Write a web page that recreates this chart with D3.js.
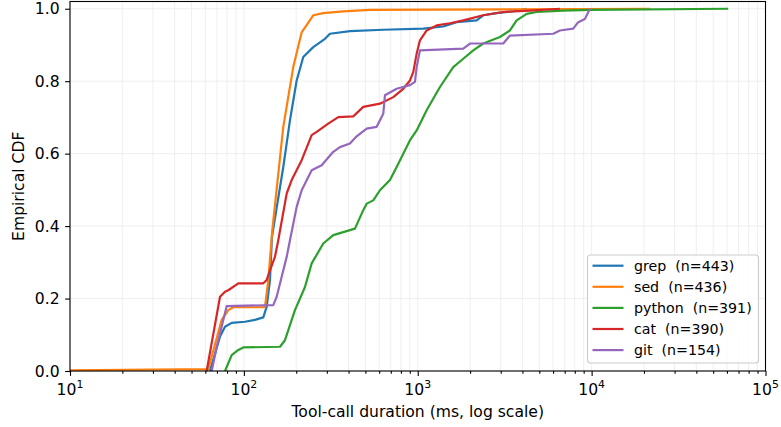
<!DOCTYPE html>
<html>
<head>
<meta charset="utf-8">
<script src="https://cdnjs.cloudflare.com/ajax/libs/d3/7.8.5/d3.min.js"></script>
<style>
    body { margin: 0; background: #fff; }
    svg { display: block; }
    svg text { font-family: 'DejaVu Sans', 'Bitstream Vera Sans', sans-serif; }
    .grid line { stroke: #ebebeb; stroke-width: 0.8; }
</style>
</head>
<body>
<svg id="chart" width="781" height="427"></svg>
<script>
    'use strict';

    // [duration in ms, empirical CDF]
    var grep = [[63.8, 0], [72.9, 0.095], [77.9, 0.122], [85.1, 0.133], [101.5, 0.136], [115.8, 0.141],
        [129.3, 0.148], [135.2, 0.177], [141.3, 0.251], [145, 0.37], [168.5, 0.563], [184.1, 0.692],
        [201.2, 0.802], [219.6, 0.867], [250.6, 0.894], [292.7, 0.917], [312.6, 0.931], [407.5, 0.938],
        [633.3, 0.942], [1075.5, 0.945], [1402, 0.951], [1673, 0.963], [2182, 0.968], [2380, 0.982],
        [2843, 0.988], [3541, 0.993], [4229, 1.0]];
    var sed = [[10, 0.002], [62.4, 0.005], [74.5, 0.141], [81.3, 0.168], [86.9, 0.176], [132.2, 0.176],
        [138.2, 0.251], [145.7, 0.389], [168.5, 0.674], [192.3, 0.839], [215, 0.935], [250.6, 0.982],
        [286.2, 0.988], [372.9, 0.993], [531.1, 0.997], [21640, 1.0]];
    var python = [[77.9, 0], [85.1, 0.044], [92.9, 0.058], [99.2, 0.065], [161.3, 0.067], [172.3, 0.085],
        [196.7, 0.168], [224.6, 0.232], [245.4, 0.297], [286.2, 0.352], [326.6, 0.375], [407.5, 0.389],
        [435.4, 0.393], [486, 0.444], [508.4, 0.462], [554.8, 0.471], [606.2, 0.499], [692, 0.527],
        [756.4, 0.563], [902.3, 0.637], [985.6, 0.664], [1125.1, 0.72], [1341.8, 0.784], [1600, 0.839],
        [1827, 0.862], [2086, 0.885], [2380, 0.904], [2970, 0.922], [3390, 0.94], [3704, 0.968],
        [4229, 0.986], [4828, 0.991], [6866, 0.995], [9777, 0.997], [61030, 1.0]];
    var cat = [[61.1, 0], [72.9, 0.205], [77.9, 0.219], [81.3, 0.223], [92.9, 0.242], [129.3, 0.242],
        [135.2, 0.251], [141.3, 0.278], [150.9, 0.315], [157.7, 0.361], [176.3, 0.49], [188.3, 0.527],
        [215, 0.582], [245.4, 0.651], [262.2, 0.66], [305.7, 0.683], [349, 0.701], [425.7, 0.703],
        [486, 0.729], [606.2, 0.738], [723.1, 0.756], [825.3, 0.779], [902.3, 0.802], [942.1, 0.825],
        [985.6, 0.876], [1029.7, 0.913], [1125.1, 0.94], [1284.5, 0.954], [1531.9, 0.96], [1827, 0.968],
        [2380, 0.982], [3102, 0.991], [4418, 0.995], [6572, 1.0]];
    var git = [[65.3, 0], [69.8, 0.067], [74.5, 0.122], [79.6, 0.179], [147.6, 0.182], [154.4, 0.205],
        [165, 0.26], [176.3, 0.315], [184.1, 0.361], [201.2, 0.453], [215, 0.499], [245.4, 0.554],
        [280.2, 0.568], [326.6, 0.605], [357, 0.618], [407.5, 0.628], [445.3, 0.648], [508.4, 0.669],
        [580.4, 0.674], [633.3, 0.71], [647.7, 0.761], [756.4, 0.779], [902.3, 0.789], [963.6, 0.798],
        [985.6, 0.839], [1029.7, 0.885], [1827, 0.89], [1996, 0.904], [3102, 0.904], [3390, 0.926],
        [6015, 0.931], [6572, 0.94], [7839, 0.945], [8375, 0.963], [9152, 0.972], [9777, 1.0]];

    var seriesNames = ['grep', 'sed', 'python', 'cat', 'git'];
    var seriesCounts = [443, 436, 391, 390, 154];
    var seriesColors = ['#1f77b4', '#ff7f0e', '#2ca02c', '#d62728', '#9467bd'];
    var seriesData = [grep, sed, python, cat, git];
    var xTickExponents = [1, 2, 3, 4, 5];
    var yTicks = [0, 0.2, 0.4, 0.6, 0.8, 1.0];

    var FONT = "'DejaVu Sans', 'Bitstream Vera Sans', sans-serif";
    var LABEL_SIZE = 15.6;
    var LEGEND_SIZE = 14.2;
    var MARGIN = {left: 70, right: 15.5, top: 1.5, bottom: 56};
    var WIDTH = 781, HEIGHT = 427;

    var svg = d3.select('#chart');
    var x = d3.scaleLog().domain([10, 1e5]).range([MARGIN.left, WIDTH - MARGIN.right]);
    var y = d3.scaleLinear().domain([0, 1.02]).range([HEIGHT - MARGIN.bottom, MARGIN.top]);

    var minorTicks = [];
    xTickExponents.slice(0, -1).forEach(function (e) {
        d3.range(2, 10).forEach(function (m) { minorTicks.push(m * Math.pow(10, e)); });
    });
    var majorTicks = xTickExponents.map(function (e) { return Math.pow(10, e); });

    // grid
    var grid = svg.append('g').attr('class', 'grid');
    grid.selectAll('.vx').data(majorTicks.concat(minorTicks)).enter().append('line')
        .attr('x1', x).attr('x2', x)
        .attr('y1', y(0)).attr('y2', y(1.02));
    grid.selectAll('.hy').data(yTicks).enter().append('line')
        .attr('x1', x(10)).attr('x2', x(1e5))
        .attr('y1', y).attr('y2', y);

    // lines
    var line = d3.line()
        .x(function (d) { return x(d[0]); })
        .y(function (d) { return y(d[1]); });

    svg.append('g').selectAll('path').data(seriesData).enter().append('path')
        .attr('d', line)
        .attr('fill', 'none')
        .attr('stroke', function (d, i) { return seriesColors[i]; })
        .attr('stroke-width', 2.2)
        .attr('stroke-linejoin', 'round');

    // x axis
    var xMinor = svg.append('g').attr('transform', 'translate(0,' + y(0) + ')')
        .call(d3.axisBottom(x).tickValues(minorTicks).tickSize(2.8).tickFormat(''));
    var xMajor = svg.append('g').attr('transform', 'translate(0,' + y(0) + ')')
        .call(d3.axisBottom(x).tickValues(majorTicks).tickSize(4.9).tickFormat(''));
    xMinor.select('.domain').remove();
    xMajor.select('.domain').remove();

    var xLabels = svg.append('g').selectAll('text').data(xTickExponents).enter().append('text')
        .attr('x', function (e) { return x(Math.pow(10, e)); })
        .attr('y', y(0) + 24)
        .attr('text-anchor', 'middle')
        .attr('font-family', FONT)
        .attr('font-size', LABEL_SIZE)
        .attr('fill', '#000');
    xLabels.append('tspan').text('10');
    xLabels.append('tspan').attr('dy', -7).attr('font-size', 10.9).text(function (e) { return e; });

    // y axis
    var yAxis = svg.append('g').attr('transform', 'translate(' + x(10) + ',0)')
        .call(d3.axisLeft(y).tickValues(yTicks).tickSize(4.9).tickPadding(5.5).tickFormat(d3.format('.1f')));
    yAxis.select('.domain').remove();
    yAxis.attr('font-family', FONT).attr('font-size', LABEL_SIZE);
    yAxis.selectAll('text').attr('fill', '#000');
    svg.selectAll('.tick line').attr('stroke', '#000').attr('stroke-width', 1.1);

    // frame
    svg.append('rect')
        .attr('x', x(10)).attr('y', y(1.02))
        .attr('width', x(1e5) - x(10)).attr('height', y(0) - y(1.02))
        .attr('fill', 'none').attr('stroke', '#000').attr('stroke-width', 1.1);

    // axis titles
    svg.append('text')
        .attr('x', (x(10) + x(1e5)) / 2).attr('y', 417)
        .attr('text-anchor', 'middle')
        .attr('font-family', FONT).attr('font-size', LABEL_SIZE)
        .text('Tool-call duration (ms, log scale)');
    svg.append('text')
        .attr('transform', 'translate(24,' + (y(0) + y(1.02)) / 2 + ') rotate(-90)')
        .attr('text-anchor', 'middle')
        .attr('font-family', FONT).attr('font-size', LABEL_SIZE)
        .text('Empirical CDF');

    // legend
    var legend = svg.append('g');
    legend.append('rect')
        .attr('x', 587.5).attr('y', 255).attr('width', 171).attr('height', 108).attr('rx', 3)
        .attr('fill', '#fff').attr('fill-opacity', 0.8)
        .attr('stroke', '#cccccc').attr('stroke-width', 1.1);
    var rows = legend.selectAll('g').data(seriesNames).enter().append('g')
        .attr('transform', function (d, i) { return 'translate(0,' + (265.7 + i * 21.1) + ')'; });
    rows.append('line')
        .attr('x1', 592.5).attr('x2', 623.5).attr('y1', 0).attr('y2', 0)
        .attr('stroke', function (d, i) { return seriesColors[i]; })
        .attr('stroke-width', 2.2);
    rows.append('text')
        .attr('x', 634).attr('y', 5)
        .attr('font-family', FONT).attr('font-size', LEGEND_SIZE)
        .text(function (d, i) { return d + '\u00a0\u00a0(n=' + seriesCounts[i] + ')'; });
</script>
</body>
</html>
